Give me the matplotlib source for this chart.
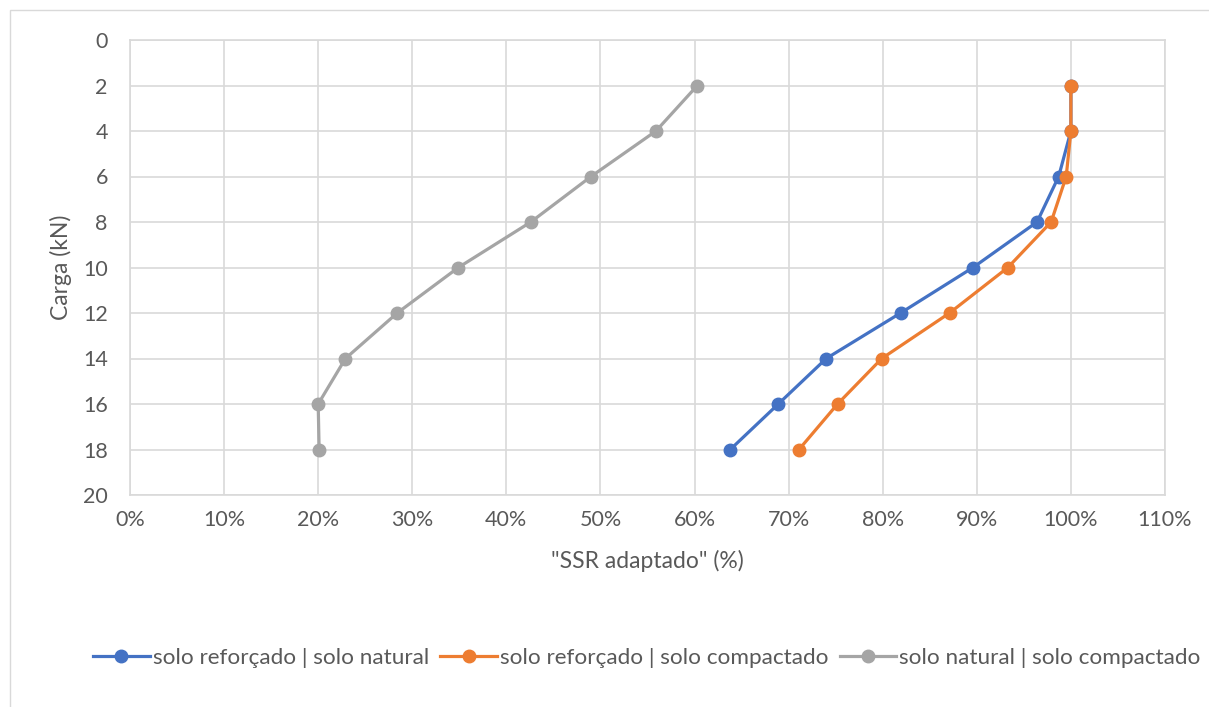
import matplotlib.pyplot as plt
from matplotlib.ticker import PercentFormatter
from matplotlib.patches import Rectangle

plt.rcParams['font.family'] = ['Lato', 'DejaVu Sans']

carga = [2, 4, 6, 8, 10, 12, 14, 16, 18]
reforcado_natural = [1.000, 1.000, 0.987, 0.964, 0.896, 0.819, 0.740, 0.689, 0.638]
reforcado_compactado = [1.000, 1.000, 0.995, 0.979, 0.933, 0.871, 0.799, 0.752, 0.711]
natural_compactado = [0.603, 0.559, 0.490, 0.426, 0.349, 0.284, 0.229, 0.200, 0.201]

labels = ["solo reforçado | solo natural",
          "solo reforçado | solo compactado",
          "solo natural | solo compactado"]
colors = ["#4472C4", "#ED7D31", "#A5A5A5"]

txt = "#595959"
grid = "#D9D9D9"

fig = plt.figure(figsize=(12.09, 7.07), dpi=100)
# chart outer border
fig.patches.append(Rectangle((10 / 1209, -0.01), 1.02, 1 - 10 / 707 + 0.01,
                             transform=fig.transFigure, fill=False,
                             edgecolor=grid, linewidth=1))

ax = fig.add_axes([130 / 1209, 1 - 495 / 707, 1035 / 1209, 455 / 707])

for ys, lab, c in zip([reforcado_natural, reforcado_compactado, natural_compactado], labels, colors):
    ax.plot(ys, carga, color=c, lw=2.3, marker='o', ms=9, label=lab, zorder=3)

ax.set_xlim(0, 1.1)
ax.set_ylim(20, 0)
ax.set_xticks([i / 10 for i in range(12)])
ax.set_yticks(range(0, 21, 2))
ax.xaxis.set_major_formatter(PercentFormatter(1.0, decimals=0))
ax.grid(True, color=grid, lw=1.2)
ax.set_axisbelow(True)
for s in ax.spines.values():
    s.set_color(grid)
    s.set_linewidth(1.2)
ax.tick_params(length=0, labelsize=15.5, colors=txt)
ax.tick_params(axis='y', pad=16)
ax.tick_params(axis='x', pad=11)

ax.set_xlabel('"SSR adaptado" (%)', fontsize=16.5, color=txt, labelpad=14)
ax.set_ylabel("Carga (kN)", fontsize=16.5, color=txt, labelpad=8)

fig.legend(loc='center', bbox_to_anchor=(647 / 1209, 1 - 658 / 707), ncol=3,
           frameon=False, fontsize=16.2, labelcolor=txt, handlelength=2.5,
           handletextpad=0.15, columnspacing=0.5, borderpad=0)

fig.savefig("out.png", dpi=100)
